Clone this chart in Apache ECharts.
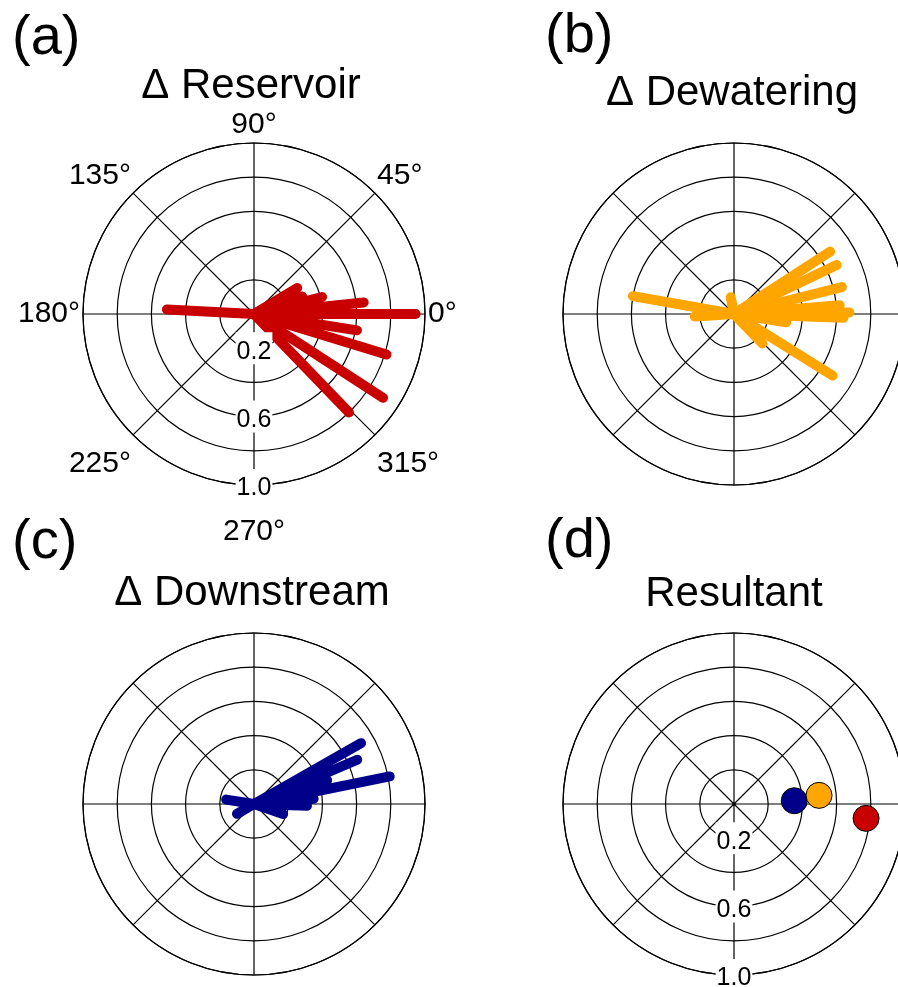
<!DOCTYPE html>
<html>
<head>
<meta charset="utf-8">
<script src="https://cdn.jsdelivr.net/npm/echarts@6/dist/echarts.min.js"></script>
<style>
html,body{margin:0;padding:0;background:#fff;}
#chart{width:898px;height:987px;}
</style>
</head>
<body>
<div id="chart"></div>
<script>
// ---- data (angle in degrees, radius 0..1) ----
const reservoirAngles = [177, 31, 14, 20, 6, 0, 351, 343, 327, 314, 346];
const reservoirRadii  = [0.51, 0.295, 0.41, 0.30, 0.645, 0.945, 0.61, 0.81, 0.90, 0.80, 0.25];

const dewateringAngles = [33, 25.5, 14, 4.7, 0.7, 358, 351, 314, 328, 101, 170, 183.5, 180];
const dewateringRadii  = [0.67, 0.665, 0.65, 0.62, 0.675, 0.64, 0.31, 0.24, 0.68, 0.10, 0.60, 0.23, 0.18];

const downstreamAngles = [29.6, 23.2, 11.5, 18, 358, 341, 171, 210, 5];
const downstreamRadii  = [0.72, 0.657, 0.81, 0.45, 0.31, 0.18, 0.165, 0.115, 0.35];

const resultantNames  = ['Downstream', 'Dewatering', 'Reservoir'];
const resultantAngles = [3.1, 5.8, 353.8];
const resultantRadii  = [0.353, 0.50, 0.777];

const angleTicks = [0, 45, 90, 135, 180, 225, 270, 315];
const radiusLabelTicks = [0.2, 0.6, 1.0];
const panelLetters = ['(a)', '(b)', '(c)', '(d)'];
const panelTitles = ['\u0394 Reservoir', '\u0394 Dewatering', '\u0394 Downstream', 'Resultant'];

// ---- styling / layout ----
const FONT = '"Liberation Sans", Arial, sans-serif';
const colors = {reservoir: '#C80000', dewatering: '#FFA500', downstream: '#00008B'};
const centers = [[254, 314], [734, 314], [254, 804], [734, 804]];
const R = 171;

const chart = echarts.init(document.getElementById('chart'), null, {renderer: 'canvas'});

const polar = centers.map(c => ({center: c, radius: R}));
// overlay polars for radius labels (drawn along 270°) in panels a and d
polar.push({center: centers[0], radius: R});
polar.push({center: centers[3], radius: R});

const gridLine = {color: '#000', width: 1.2};

const angleAxis = [];
const radiusAxis = [];
for (let i = 0; i < 4; i++) {
  angleAxis.push({
    polarIndex: i, type: 'value', min: 0, max: 360, interval: 45,
    startAngle: 0, clockwise: false,
    axisLine: {lineStyle: gridLine},
    axisTick: {show: false},
    splitLine: {lineStyle: gridLine},
    axisLabel: {
      show: i === 0, margin: 3, color: '#000', fontSize: 30, fontFamily: FONT,
      formatter: v => {
        if (angleTicks.indexOf(v) < 0) return '';
        if (v === 270) return '{b|270\u00b0}';
        if (v === 225 || v === 315) return '{d|' + v + '\u00b0}';
        return v + '\u00b0';
      },
      rich: {
        b: {fontSize: 30, fontFamily: FONT, color: '#000', lineHeight: 88},
        d: {fontSize: 30, fontFamily: FONT, color: '#000', lineHeight: 54}
      }
    }
  });
  radiusAxis.push({
    polarIndex: i, type: 'value', min: 0, max: 1, interval: 0.2,
    axisLine: {show: false}, axisTick: {show: false}, axisLabel: {show: false},
    splitLine: {lineStyle: gridLine}
  });
}
[4, 5].forEach(pi => {
  angleAxis.push({
    polarIndex: pi, type: 'value', min: 0, max: 360, startAngle: 270, clockwise: false,
    show: false
  });
  radiusAxis.push({
    polarIndex: pi, type: 'value', min: 0, max: 1, interval: 0.2, z: 10,
    axisLine: {show: false}, axisTick: {show: false}, splitLine: {show: false},
    axisLabel: {
      show: true, margin: 0, align: 'center', verticalAlign: 'middle',
      formatter: v => radiusLabelTicks.some(t => Math.abs(t - v) < 1e-6) ? '{l|' + v.toFixed(1) + '}' : '',
      rich: {l: {fontSize: 25, fontFamily: FONT, color: '#000', backgroundColor: '#fff', padding: [7, 1, 0, 1]}}
    }
  });
});

const series = [];
function spokes(angles, radii, pIdx, color) {
  angles.forEach((a, k) => {
    series.push({
      type: 'line', coordinateSystem: 'polar', polarIndex: pIdx,
      data: [[0, a], [radii[k], a]],
      symbol: 'none', silent: true, z: 3,
      lineStyle: {color: color, width: 10, cap: 'round'}
    });
  });
}
spokes(reservoirAngles, reservoirRadii, 0, colors.reservoir);
spokes(dewateringAngles, dewateringRadii, 1, colors.dewatering);
spokes(downstreamAngles, downstreamRadii, 2, colors.downstream);

const resultColors = [colors.downstream, colors.dewatering, colors.reservoir];
resultantAngles.forEach((a, k) => {
  series.push({
    type: 'scatter', coordinateSystem: 'polar', polarIndex: 3, name: resultantNames[k],
    data: [[resultantRadii[k], a]], symbol: 'circle', symbolSize: 26, z: 4 + k,
    itemStyle: {color: resultColors[k], borderColor: '#000', borderWidth: 1, opacity: 1}
  });
});

const letterPos = [[12, 11], [545, 9], [12, 515], [545, 514]];
const titlePos = [[251, 65], [732, 72], [252, 572], [734, 573]];
const title = [];
for (let i = 0; i < 4; i++) {
  title.push({
    text: panelLetters[i], left: letterPos[i][0], top: letterPos[i][1], padding: 0,
    textStyle: {fontSize: 56, fontWeight: 'normal', color: '#000', fontFamily: FONT}
  });
  title.push({
    text: panelTitles[i], left: titlePos[i][0], top: titlePos[i][1], padding: 0, textAlign: 'center',
    textStyle: {fontSize: 42, fontWeight: 'normal', color: '#000', fontFamily: FONT}
  });
}

chart.setOption({
  backgroundColor: '#fff',
  animation: false,
  title: title,
  polar: polar,
  angleAxis: angleAxis,
  radiusAxis: radiusAxis,
  series: series
});
</script>
</body>
</html>
